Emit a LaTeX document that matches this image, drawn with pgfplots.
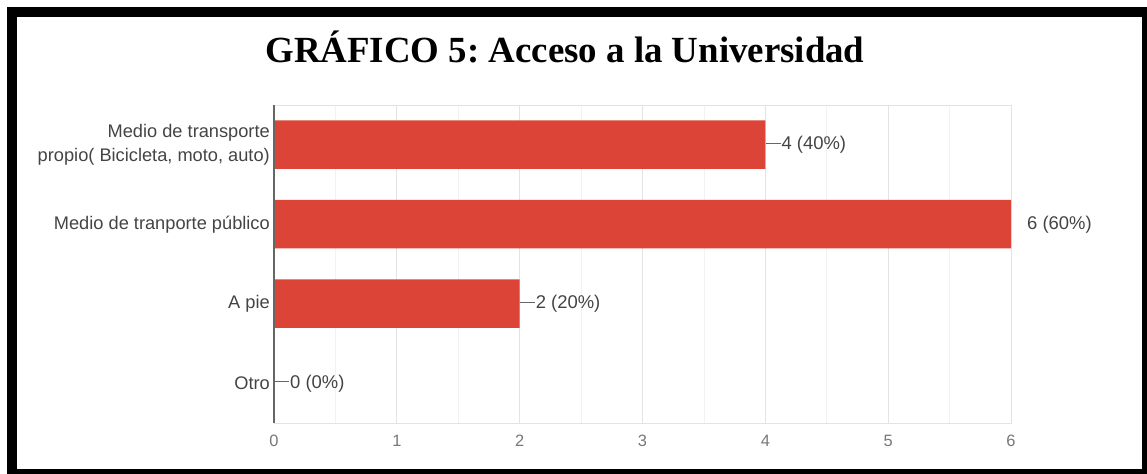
\documentclass[border=0pt]{standalone}
\usepackage{fontspec}
\setmainfont{Liberation Sans}
\newfontfamily\titlefont{Liberation Serif}
\usepackage{pgfplots}
\pgfplotsset{compat=1.18}

\definecolor{barred}{HTML}{DB4437}
\definecolor{labelgray}{HTML}{444444}
\definecolor{tickgray}{HTML}{777777}
\definecolor{gridmajor}{HTML}{E3E3E3}
\definecolor{gridminor}{HTML}{F2F2F2}
\definecolor{conngray}{HTML}{666666}

% short connector line in front of a data label
\protected\def\conn{\textcolor{conngray}{\rule[0.33em]{15bp}{0.9bp}}\hspace{1bp}}
\protected\def\noconn{\hspace{16bp}}

\begin{document}
\frenchspacing
\begin{tikzpicture}[x=1bp,y=1bp]
\useasboundingbox (0,0) rectangle (1147,474);

% black frame round the chart
\begin{scope}
  \clip (0,0) rectangle (1147,474);
  \draw[line width=10bp, black] (12,0) rectangle (1147,461.5);
\end{scope}

\node[font=\titlefont\bfseries\fontsize{37}{40}\selectfont, anchor=base]
  at (565,411) {GRÁFICO 5: Acceso a la Universidad};

\begin{axis}[
    at={(274bp,51bp)}, anchor=south west,
    scale only axis,
    width=737bp, height=318bp,
    xbar,
    bar width=0.61,
    bar shift=0pt,
    xmin=0, xmax=6,
    ymin=-0.5, ymax=3.5,
    y dir=reverse,
    xtick={0,1,2,3,4,5,6},
    minor xtick={0.5,1.5,2.5,3.5,4.5,5.5},
    /pgf/number format/assume math mode=true,
    ytick={0,1,2,3},
    yticklabels={{Medio de transporte\\propio( Bicicleta, moto, auto)},
                 {Medio de tranporte público},
                 {A pie},
                 {Otro}},
    yticklabel style={align=right, font=\fontsize{18.3}{25}\selectfont, text=labelgray, inner xsep=4bp},
    xticklabel style={font=\fontsize{16.5}{18}\selectfont, text=tickgray, yshift=-9bp},
    major tick length=0pt, minor tick length=0pt,
    xmajorgrids, xminorgrids,
    major grid style={gridmajor, line width=0.8bp},
    minor grid style={gridminor, line width=0.8bp},
    axis line style={gridmajor, line width=0.8bp},
    nodes near coords={\pgfplotspointmeta},
    point meta=explicit symbolic,
    every node near coord/.append style={anchor=west, inner xsep=0pt, xshift=0pt,
        font=\fontsize{18.5}{20}\selectfont, text=labelgray},
    clip=false,
]
\addplot[fill=barred, draw=none] coordinates {
    (4,0) [\conn 4 (40\%)]
    (6,1) [\noconn 6 (60\%)]
    (2,2) [\conn 2 (20\%)]
    (0,3) [\conn 0 (0\%)]
};
\draw[gray!80!black, line width=1.2bp] (rel axis cs:0,0) -- (rel axis cs:0,1);
\end{axis}
\end{tikzpicture}
\end{document}
